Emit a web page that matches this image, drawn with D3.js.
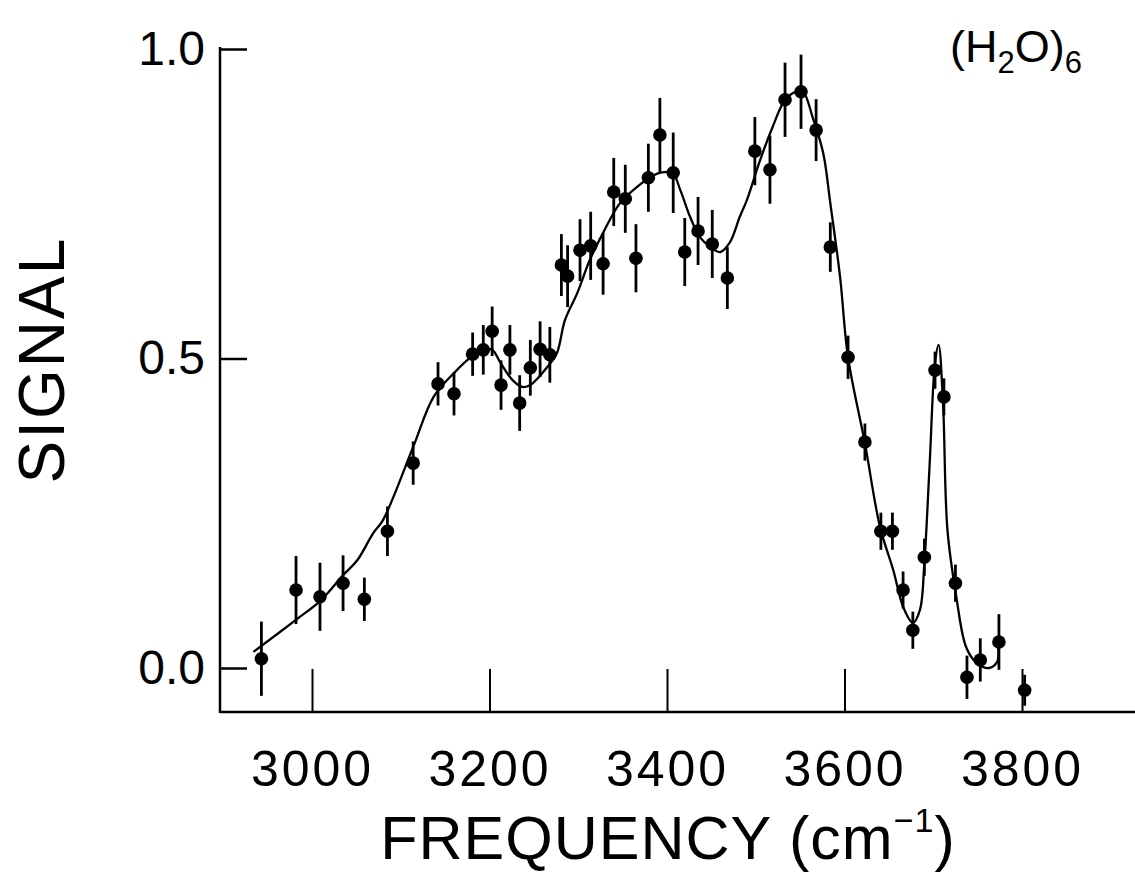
<!DOCTYPE html>
<html>
<head>
<meta charset="utf-8">
<script src="https://cdn.jsdelivr.net/npm/d3@7"></script>
<style>
body{margin:0;background:#fff;}
text{font-family:"Liberation Sans",Arial,Helvetica,sans-serif;fill:#000;}
</style>
</head>
<body>
<svg id="graph"></svg>
<script>
// measured points (cm-1, signal) and error bar half-heights
var freq = [2943,2982,3009,3035,3059,3085,3114,3142,3160,3181,3193,3203,3213,3223,3234,3246,3257,3268,
    3281,3288,3302,3314,3328,3340,3353,3365,3379,3392,3407,3420,3435,3451,3468,3499,3516,3533,3551,3568,
    3584,3604,3623,3641,3654,3666,3677,3690,3702,3712,3725,3738,3753,3774,3803]
var signal = [0.015,0.126,0.115,0.137,0.111,0.221,0.331,0.459,0.443,0.507,0.514,0.544,0.457,0.514,0.428,0.485,0.515,0.506,
    0.651,0.633,0.675,0.682,0.653,0.769,0.758,0.662,0.792,0.861,0.800,0.672,0.706,0.685,0.630,0.835,0.805,0.918,0.931,0.869,
    0.680,0.502,0.365,0.221,0.221,0.126,0.061,0.179,0.481,0.438,0.137,-0.015,0.013,0.042,-0.036]
var err = [0.06,0.055,0.055,0.045,0.035,0.04,0.035,0.035,0.035,0.035,0.04,0.04,0.04,0.04,0.045,0.045,0.045,0.045,
    0.05,0.05,0.05,0.055,0.05,0.055,0.055,0.055,0.055,0.06,0.065,0.055,0.055,0.055,0.05,0.055,0.055,0.06,0.06,0.05,
    0.04,0.035,0.03,0.03,0.03,0.03,0.03,0.03,0.03,0.03,0.03,0.035,0.035,0.045,0.025]

// smooth fit drawn through the data
var fitFreq = [2934,2983,3009,3035,3051,3069,3080,3114,3137,3161,3178,3193,3203,3212,3226,3237,3246,3265,3276,
    3285,3299,3313,3328,3347,3366,3381,3392,3406,3415,3426,3437,3449,3460,3471,3482,3490,3505,3519,3531,3542,
    3553,3564,3576,3584,3595,3604,3623,3640,3655,3666,3677,3685,3690,3696,3702,3706,3711,3716,3726,3737,3749,
    3763,3772,3773]
var fitSignal = [0.026,0.079,0.108,0.150,0.174,0.218,0.239,0.357,0.438,0.478,0.501,0.514,0.514,0.494,0.465,0.454,0.457,0.486,0.509,
    0.562,0.606,0.659,0.703,0.751,0.777,0.793,0.800,0.800,0.772,0.729,0.696,0.680,0.672,0.688,0.729,0.756,0.821,0.874,0.913,0.929,
    0.931,0.890,0.832,0.751,0.632,0.502,0.363,0.228,0.158,0.099,0.073,0.094,0.170,0.331,0.493,0.522,0.428,0.223,0.115,0.034,0.008,
    0.000,0.010,0.037]

var xTicks = [3000,3200,3400,3600,3800]
var yTicks = [0.0,0.5,1.0]

var screen = {width:1135,height:874}
var margin = {left:220,top:47,bottom:712}

var xScale = d3.scaleLinear()
    .domain([3000,3800])
    .range([312,1022])

var yScale = d3.scaleLinear()
    .domain([0,1])
    .range([668,49])

var svg = d3.select("#graph")
    .attr("width",screen.width)
    .attr("height",screen.height)

svg.append("rect")
    .attr("width",screen.width)
    .attr("height",screen.height)
    .attr("fill","#fff")

var drawAxes = function()
{
    var xAxis = svg.append("g")
        .attr("transform","translate(0,"+margin.bottom+")")
        .call(d3.axisBottom(xScale).tickValues(xTicks).tickSize(-43).tickPadding(38).tickFormat(d3.format("d")))
    xAxis.select(".domain").remove()
    xAxis.selectAll("line").attr("stroke","#000").attr("stroke-width",2)
    xAxis.selectAll("text")
        .attr("font-size",50)
        .style("letter-spacing","3px")

    var yAxis = svg.append("g")
        .attr("transform","translate("+margin.left+",0)")
        .call(d3.axisLeft(yScale).tickValues(yTicks).tickSize(-27).tickPadding(15).tickFormat(d3.format(".1f")))
    yAxis.select(".domain").remove()
    yAxis.selectAll("line").attr("stroke","#000").attr("stroke-width",2.5)
    yAxis.selectAll("text")
        .attr("font-size",48)

    svg.append("line")
        .attr("x1",margin.left).attr("x2",margin.left)
        .attr("y1",margin.top).attr("y2",margin.bottom+1)
        .attr("stroke","#000").attr("stroke-width",2.5)
    svg.append("line")
        .attr("x1",margin.left).attr("x2",screen.width)
        .attr("y1",margin.bottom).attr("y2",margin.bottom)
        .attr("stroke","#000").attr("stroke-width",2.5)
}

var drawFit = function()
{
    var fit = fitFreq.map(function(f,i){ return {f:f,s:fitSignal[i]} })
    var line = d3.line()
        .x(function(d){ return xScale(d.f) })
        .y(function(d){ return yScale(d.s) })
        .curve(d3.curveCatmullRom)
    svg.append("path")
        .datum(fit)
        .attr("d",line)
        .attr("fill","none")
        .attr("stroke","#000")
        .attr("stroke-width",2.3)
}

var drawPoints = function()
{
    var pts = freq.map(function(f,i){ return {f:f,s:signal[i],e:err[i]} })
    svg.append("g")
        .selectAll("line")
        .data(pts)
        .enter()
        .append("line")
        .attr("x1",function(d){ return xScale(d.f) })
        .attr("x2",function(d){ return xScale(d.f) })
        .attr("y1",function(d){ return yScale(d.s-d.e) })
        .attr("y2",function(d){ return yScale(d.s+d.e) })
        .attr("stroke","#000")
        .attr("stroke-width",2.8)
    svg.append("g")
        .selectAll("circle")
        .data(pts)
        .enter()
        .append("circle")
        .attr("cx",function(d){ return xScale(d.f) })
        .attr("cy",function(d){ return yScale(d.s) })
        .attr("r",6.8)
        .attr("fill","#000")
}

var drawLabels = function()
{
    svg.append("text")
        .attr("transform","translate(64,360) rotate(-90)")
        .attr("text-anchor","middle")
        .attr("font-size",64)
        .style("letter-spacing","2px")
        .text("SIGNAL")

    var xl = svg.append("text")
        .attr("x",668)
        .attr("y",859)
        .attr("text-anchor","middle")
        .attr("font-size",61)
        .style("letter-spacing","1px")
    xl.append("tspan").text("FREQUENCY (cm")
    xl.append("tspan").attr("font-size",34).attr("dy",-27).text("\u22121")
    xl.append("tspan").attr("dy",27).text(")")

    var title = svg.append("text")
        .attr("x",950)
        .attr("y",62)
        .attr("font-size",45)
    title.append("tspan").text("(H")
    title.append("tspan").attr("font-size",31).attr("dy",11).text("2")
    title.append("tspan").attr("dy",-11).text("O)")
    title.append("tspan").attr("font-size",31).attr("dy",11).text("6")
}

drawAxes()
drawFit()
drawPoints()
drawLabels()
</script>
</body>
</html>
